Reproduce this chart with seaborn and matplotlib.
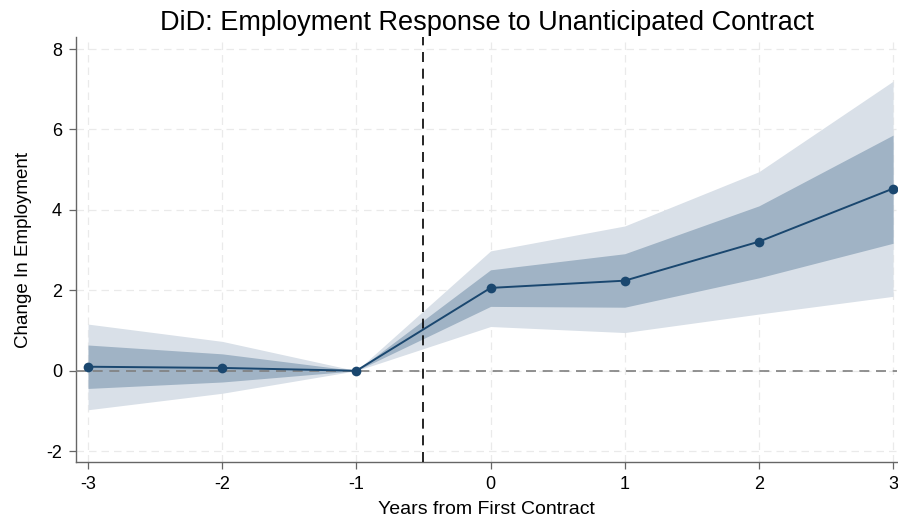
import matplotlib
matplotlib.use("Agg")
import matplotlib.pyplot as plt
import seaborn as sns
import pandas as pd

# Event-study estimates with 90% and 95% confidence bands
years = [-3, -2, -1, 0, 1, 2, 3]
coef = [0.10, 0.07, 0.0, 2.06, 2.24, 3.21, 4.53]
ci90_lo = [-0.44, -0.28, 0.0, 1.60, 1.58, 2.31, 3.17]
ci90_hi = [0.64, 0.42, 0.0, 2.51, 2.91, 4.10, 5.86]
ci95_lo = [-0.97, -0.56, 0.0, 1.10, 0.95, 1.41, 1.85]
ci95_hi = [1.16, 0.73, 0.0, 2.98, 3.60, 4.95, 7.20]
xticks = [-3, -2, -1, 0, 1, 2, 3]
yticks = [-2, 0, 2, 4, 6, 8]

df = pd.DataFrame({"year": years, "coef": coef})

sns.set_theme(style="white")
plt.rcParams["font.family"] = ["Liberation Sans", "DejaVu Sans"]
plt.rcParams["text.color"] = "black"
plt.rcParams["axes.labelcolor"] = "black"

navy = "#1a476f"
fig = plt.figure(figsize=(8.98, 5.21), dpi=100)
ax = fig.add_axes([0.0846, 0.1132, 0.9144, 0.8158])

ax.fill_between(years, ci95_lo, ci95_hi, color="#d9e0e8", linewidth=0, zorder=1)
ax.fill_between(years, ci90_lo, ci90_hi, color="#a0b3c5", linewidth=0, zorder=2)

sns.lineplot(data=df, x="year", y="coef", ax=ax, color=navy, linewidth=1.4,
             marker="o", markersize=7, markeredgewidth=0, zorder=4)

ax.axhline(0, color="#7f7f7f", linestyle=(0, (6, 4)), linewidth=1.2, zorder=3)
ax.axvline(-0.5, color="black", linestyle=(0, (6, 4)), linewidth=1.2, zorder=3)

ax.set_xlim(-3.09, 3.03)
ax.set_ylim(-2.27, 8.3)
ax.set_xticks(xticks)
ax.set_yticks(yticks)
ax.set_xticklabels([str(t) for t in xticks])
ax.set_yticklabels([str(t) for t in yticks])

ax.grid(True, color="#eaeaea", linestyle=(0, (6, 4)), linewidth=0.9)
ax.set_axisbelow(True)

for s in ["top", "right"]:
    ax.spines[s].set_visible(False)
for s in ["left", "bottom"]:
    ax.spines[s].set_color("#666666")
    ax.spines[s].set_linewidth(1.0)

ax.tick_params(axis="both", which="major", direction="out", length=5, width=0.9,
               color="#666666", labelsize=13, labelcolor="black", pad=5,
               left=True, bottom=True)

ax.set_xlabel("Years from First Contract", fontsize=14, labelpad=6)
ax.set_ylabel("Change In Employment", fontsize=13.5, labelpad=10)
ax.set_title("DiD: Employment Response to Unanticipated Contract", fontsize=19.5,
             pad=5, color="black")

fig.savefig("out.png", dpi=100)
